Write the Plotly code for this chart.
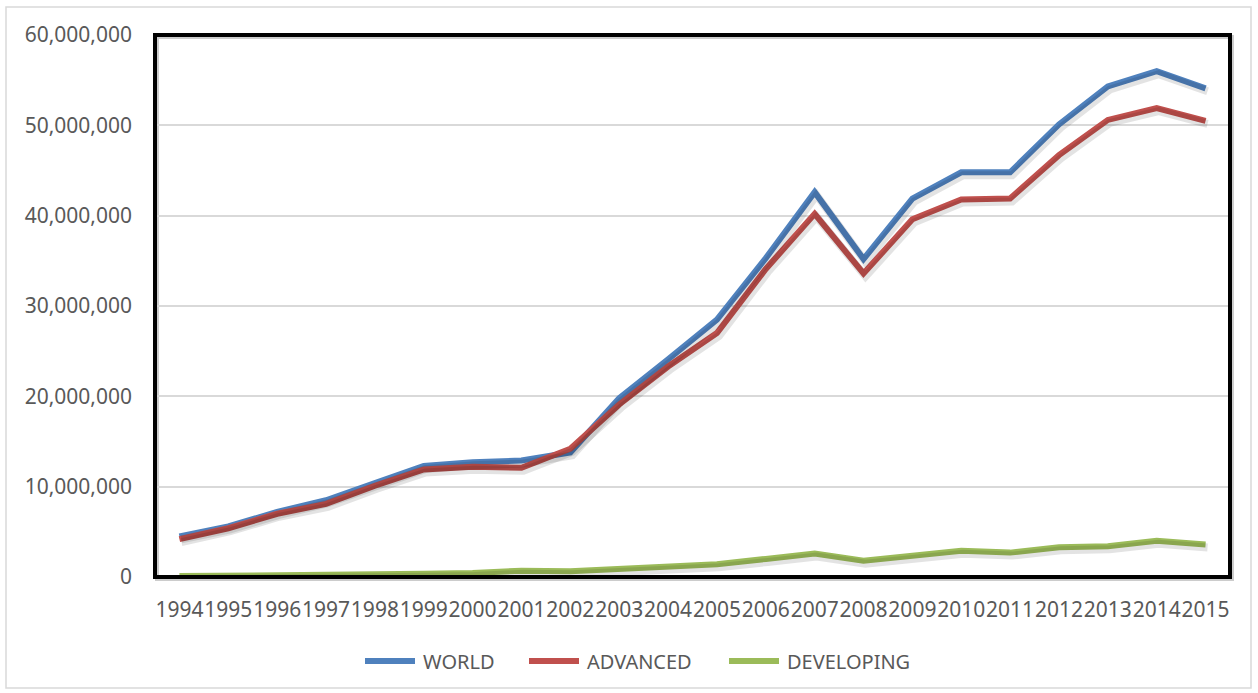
import plotly.graph_objects as go

years = [str(y) for y in range(1994, 2016)]

world = [4.5, 5.6, 7.2, 8.5, 10.4, 12.3, 12.7, 12.9, 13.8, 19.8, 24.1, 28.5,
         35.3, 42.6, 35.2, 41.9, 44.8, 44.8, 50.1, 54.3, 56.0, 54.1]
advanced = [4.2, 5.4, 7.0, 8.1, 10.1, 11.9, 12.2, 12.1, 14.2, 19.1, 23.3, 27.0,
            34.1, 40.2, 33.6, 39.6, 41.8, 41.9, 46.7, 50.6, 51.9, 50.5]
developing = [0.1, 0.12, 0.18, 0.25, 0.28, 0.35, 0.45, 0.7, 0.65, 0.85, 1.05, 1.4,
              2.0, 2.6, 1.8, 2.4, 2.9, 2.7, 3.3, 3.4, 4.0, 3.6]

series_names = ["WORLD", "ADVANCED", "DEVELOPING"]
series_values = [world, advanced, developing]
series_colors = ["#4F81BD", "#C0504D", "#9BBB59"]

y_ticks = [0, 10_000_000, 20_000_000, 30_000_000, 40_000_000, 50_000_000, 60_000_000]
y_labels = ["0", "10,000,000", "20,000,000", "30,000,000", "40,000,000",
            "50,000,000", "60,000,000"]

FONT = "Noto Sans"
GREY = "#595959"

W, H = 1258, 693
L, R, T, B = 155, 28, 35, 116
plot_w = W - L - R
plot_h = H - T - B

fig = go.Figure()

# soft drop shadow under each line, drawn on a slightly shifted overlay axis pair
for vals in series_values:
    fig.add_trace(go.Scatter(
        x=years, y=[v * 1e6 for v in vals], mode="lines",
        line=dict(color="rgba(0,0,0,0.11)", width=8),
        xaxis="x2", yaxis="y2", showlegend=False, hoverinfo="skip",
    ))

for name, vals, col in zip(series_names, series_values, series_colors):
    fig.add_trace(go.Scatter(
        x=years, y=[v * 1e6 for v in vals], mode="lines", name=name,
        line=dict(color=col, width=6), showlegend=False,
    ))

n = len(years)
dx = 2.0 / (plot_w / n)          # ~2 px right
dy = 3.0 / plot_h * 60_000_000   # ~3 px down

fig.update_layout(
    width=W, height=H,
    margin=dict(l=L, r=R, t=T, b=B, autoexpand=False),
    paper_bgcolor="white", plot_bgcolor="white",
    font=dict(family=FONT, color=GREY, size=21),
    xaxis=dict(
        type="category", range=[-0.5, n - 0.5], tickmode="array",
        tickvals=years, ticktext=years, tickangle=0, showgrid=False,
        zeroline=False, showline=False, ticks="", ticklabelstandoff=18,
        tickfont=dict(size=21, color=GREY, family=FONT),
        automargin=False,
    ),
    yaxis=dict(
        range=[0, 60_000_000], tickmode="array", tickvals=y_ticks,
        ticktext=y_labels, showgrid=True, gridcolor="#D9D9D9", gridwidth=1.5,
        zeroline=False, showline=False, ticks="", ticklabelstandoff=22,
        tickfont=dict(size=21, color=GREY, family=FONT),
        automargin=False,
    ),
    xaxis2=dict(
        type="category", overlaying="x", range=[-0.5 - dx, n - 0.5 - dx],
        visible=False,
    ),
    yaxis2=dict(
        overlaying="y", range=[dy, 60_000_000 + dy], visible=False,
    ),
    showlegend=False,
)


def px_x(px):
    return (px - L) / plot_w


def px_y(py):
    return (H - B - py) / plot_h


# outer chart frame
fig.add_shape(type="rect", xref="paper", yref="paper",
              x0=px_x(6), x1=px_x(1251), y0=px_y(7), y1=px_y(688),
              line=dict(color="#D9D9D9", width=1.5), layer="below")
# plot area frame with a grey shadow edge
fig.add_shape(type="rect", xref="paper", yref="paper",
              x0=px_x(L + 2), x1=px_x(L + plot_w + 2), y0=px_y(H - B + 2), y1=px_y(T + 2),
              line=dict(color="rgba(0,0,0,0.2)", width=4), layer="below")
fig.add_shape(type="rect", xref="paper", yref="paper",
              x0=0, x1=1, y0=0, y1=1,
              line=dict(color="black", width=4))

# legend row below the category labels: line sample followed by its name
legend_y = 661
legend_starts = [362, 526, 726]
sample_len = 56
for name, col, x0 in zip(series_names, series_colors, legend_starts):
    fig.add_shape(type="line", xref="paper", yref="paper",
                  x0=px_x(x0 + 3), x1=px_x(x0 + sample_len - 3),
                  y0=px_y(legend_y), y1=px_y(legend_y),
                  line=dict(color=col, width=6))
    fig.add_annotation(xref="paper", yref="paper",
                       x=px_x(x0 + sample_len + 3), y=px_y(legend_y),
                       xanchor="left", yanchor="middle", showarrow=False,
                       text=name, font=dict(size=20, color=GREY, family=FONT))

fig.write_html("out.html")
